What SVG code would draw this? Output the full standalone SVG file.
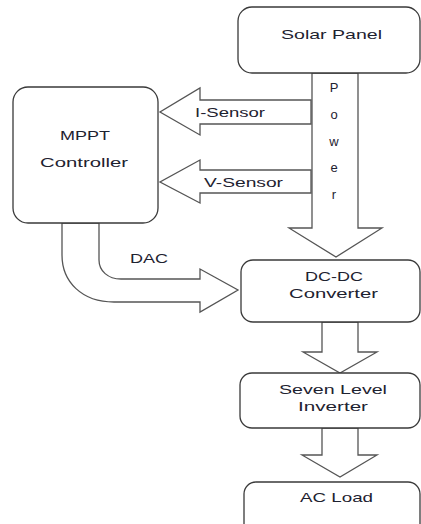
<svg xmlns="http://www.w3.org/2000/svg" width="421" height="524" viewBox="0 0 421 524">
<style>
.box{fill:#fff;stroke:#3a3a3a;stroke-width:1.3}
.arr{fill:#fff;stroke:#555;stroke-width:1.3;stroke-linejoin:miter}
text{font-family:"Liberation Sans",Arial,sans-serif;font-size:13px;fill:#1e2230}
.c{text-anchor:middle}
</style>
<rect width="421" height="524" fill="#fff"/>
<g id="connectors">
<path id="power" class="arr" d="M312,73 V228 H289 L336,257 L382,228 H358 V73 Z"/>
<path id="isensor" class="arr" d="M311,100 V124 H200 V135 L160,112 L200,88 V100 Z"/>
<path id="vsensor" class="arr" d="M311,170 V193 H200 V203 L160,182 L200,160 V170 Z"/>
<path id="dac" class="arr" d="M62,223 V255 C62,282 82,302 114,302 H200 V312 L238,290 L200,269 V279 H121 C108,279 99,271 99,260 V223 Z"/>
<path id="a1" class="arr" d="M322,322 V352 H303 L340,373 L377,352 H358 V322 Z"/>
<path id="a2" class="arr" d="M322,428 V455 H302 L340,477 L377,455 H358 V428 Z"/>
<text x="334" y="92" class="c">P</text>
<text x="334" y="119" class="c">o</text>
<text x="334" y="146" class="c">w</text>
<text x="334" y="172" class="c">e</text>
<text x="334" y="199" class="c">r</text>
<text x="195" y="117" textLength="70" lengthAdjust="spacingAndGlyphs">I-Sensor</text>
<text x="204" y="187" textLength="79" lengthAdjust="spacingAndGlyphs">V-Sensor</text>
<text x="130" y="263" textLength="38" lengthAdjust="spacingAndGlyphs">DAC</text>
</g>
<g id="solar">
<rect class="box" x="238" y="7" width="182" height="66" rx="14"/>
<text x="281" y="39" textLength="101" lengthAdjust="spacingAndGlyphs">Solar Panel</text>
</g>
<g id="mppt">
<rect class="box" x="13" y="87" width="145" height="136" rx="15"/>
<text x="60" y="140" textLength="50" lengthAdjust="spacingAndGlyphs">MPPT</text>
<text x="40" y="167" textLength="88" lengthAdjust="spacingAndGlyphs">Controller</text>
</g>
<g id="dcdc">
<rect class="box" x="241" y="260" width="179" height="62" rx="12"/>
<text x="305" y="281" textLength="58" lengthAdjust="spacingAndGlyphs">DC-DC</text>
<text x="289" y="298" textLength="89" lengthAdjust="spacingAndGlyphs">Converter</text>
</g>
<g id="inverter">
<rect class="box" x="240" y="373" width="180" height="55" rx="12"/>
<text x="279" y="394" textLength="108" lengthAdjust="spacingAndGlyphs">Seven Level</text>
<text x="298" y="411" textLength="70" lengthAdjust="spacingAndGlyphs">Inverter</text>
</g>
<g id="acload">
<rect class="box" x="244" y="482" width="176" height="60" rx="12"/>
<text x="300" y="502" textLength="73" lengthAdjust="spacingAndGlyphs">AC Load</text>
</g>
</svg>
